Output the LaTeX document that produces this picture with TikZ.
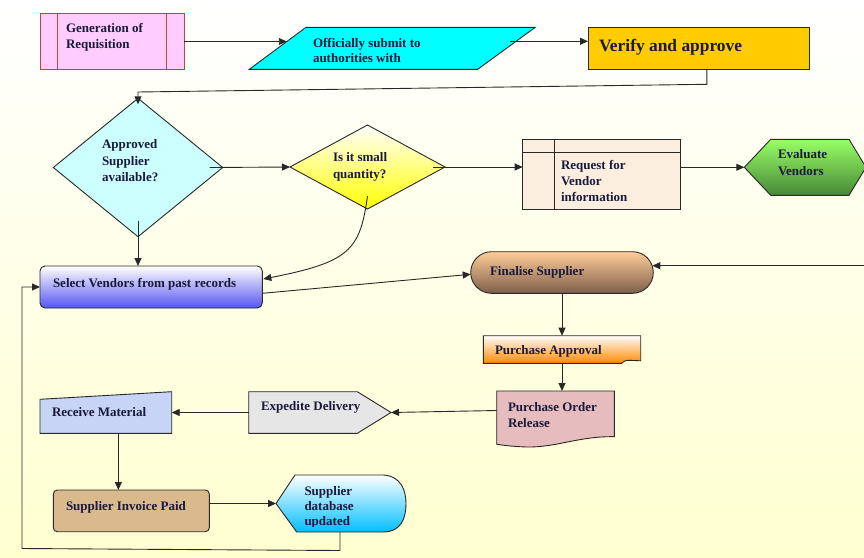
\documentclass[tikz,border=0pt]{standalone}
\usepackage{fontspec}
\setmainfont{Liberation Serif}
\usetikzlibrary{arrows.meta,calc}
\pgfdeclarelayer{bg}
\pgfsetlayers{bg,main}
\definecolor{bgmid}{RGB}{255,254,238}
\definecolor{bgbot}{RGB}{255,255,208}
\definecolor{ink}{RGB}{25,25,60}
\definecolor{edgec}{RGB}{40,40,40}
\definecolor{genfill}{RGB}{255,204,255}
\definecolor{genedge}{RGB}{175,75,55}
\definecolor{offfill}{RGB}{0,255,255}
\definecolor{verfill}{RGB}{255,204,0}
\definecolor{dafill}{RGB}{204,255,255}
\definecolor{dbot}{RGB}{255,255,0}
\definecolor{reqfill}{RGB}{252,238,222}
\definecolor{evatop}{RGB}{153,255,102}
\definecolor{evabot}{RGB}{72,135,55}
\definecolor{selbot}{RGB}{85,85,240}
\definecolor{fintop}{RGB}{255,204,153}
\definecolor{finbot}{RGB}{125,95,75}
\definecolor{pabot}{RGB}{255,136,0}
\definecolor{pofill}{RGB}{230,188,190}
\definecolor{expfill}{RGB}{230,230,230}
\definecolor{recfill}{RGB}{200,212,245}
\definecolor{invfill}{RGB}{218,186,140}
\definecolor{dbbot}{RGB}{0,190,255}
\begin{document}
\begin{tikzpicture}[x=1pt,y=-1pt,
  frame/.style={inner sep=0pt,outer sep=0pt},
  lbl/.style={inner sep=0pt,outer sep=0pt,anchor=base west,align=left,text=ink,font=\fontsize{13}{16.5}\selectfont\bfseries},
  conn/.style={draw=edgec,line width=0.9pt,-{Triangle[length=8pt,width=7pt]}},
  shapeline/.style={draw=edgec,line width=0.9pt}]
\useasboundingbox (0,0) rectangle (864,557);
% ---------- shape frames ----------
\node[frame,minimum width=144pt,minimum height=56.4pt] (gen) at (112,41.5) {};
\node[frame,minimum width=286pt,minimum height=42pt] (off) at (392.3,48.3) {};
\node[frame,minimum width=221.7pt,minimum height=42pt] (ver) at (698.85,48.3) {};
\node[frame,minimum width=169.4pt,minimum height=138.4pt] (da) at (138,167.5) {};
\node[frame,minimum width=155pt,minimum height=84pt] (db) at (367.5,167) {};
\node[frame,minimum width=157.3pt,minimum height=70pt] (req) at (601.35,174.3) {};
\node[frame,minimum width=121.7pt,minimum height=56pt] (eva) at (805.15,167.3) {};
\node[frame,minimum width=222.3pt,minimum height=42pt] (sel) at (151.15,287) {};
\node[frame,minimum width=182.6pt,minimum height=41.6pt] (fin) at (562,272.5) {};
\node[frame,minimum width=157.4pt,minimum height=27.6pt] (pa) at (562,349.5) {};
\node[frame,minimum width=117.6pt,minimum height=55pt] (po) at (555.5,418.5) {};
\node[frame,minimum width=142.3pt,minimum height=41.6pt] (exp) at (319.85,412.5) {};
\node[frame,minimum width=131.7pt,minimum height=41.6pt] (rec) at (105.85,412.5) {};
\node[frame,minimum width=156pt,minimum height=41.7pt] (inv) at (131.3,510.85) {};
\node[frame,minimum width=130pt,minimum height=57pt] (sdb) at (341,503.5) {};
\coordinate (rin) at (864,265.7);
% ---------- labels (anchor = baseline of last line) ----------
\node[lbl] (gen-t) at (66,48.8) {Generation of\\Requisition};
\node[lbl,font=\fontsize{13}{15.5}\selectfont\bfseries] (off-t) at (313,62.5) {Officially submit to\\authorities with};
\node[lbl,font=\fontsize{17.4}{20}\selectfont\bfseries] (ver-t) at (599,51) {Verify and approve};
\node[lbl] (da-t) at (102,181.7) {Approved\\Supplier\\available?};
\node[lbl] (db-t) at (333,178.3) {Is it small\\quantity?};
\node[lbl,font=\fontsize{13}{16.2}\selectfont\bfseries] (req-t) at (561,201.7) {Request for\\Vendor\\information};
\node[lbl,font=\fontsize{13}{17}\selectfont\bfseries] (eva-t) at (778,175) {Evaluate\\Vendors};
\node[lbl] (sel-t) at (53,287) {Select Vendors from past records};
\node[lbl] (fin-t) at (490,275) {Finalise Supplier};
\node[lbl] (pa-t) at (495,354.5) {Purchase Approval};
\node[lbl,font=\fontsize{13}{16.3}\selectfont\bfseries] (po-t) at (508,427.3) {Purchase Order\\Release};
\node[lbl] (exp-t) at (261,410.7) {Expedite Delivery};
\node[lbl] (rec-t) at (52,416.7) {Receive Material};
\node[lbl] (inv-t) at (66,510) {Supplier Invoice Paid};
\begin{scope}
\clip (sdb.north west) rectangle ($(sdb.south east)+(0,-6)$);
\node[lbl,font=\fontsize{13}{15}\selectfont\bfseries] (sdb-t) at (304.5,525.2) {Supplier\\database\\updated};
\end{scope}
% ---------- shapes (behind) ----------
\begin{pgfonlayer}{bg}
\shade[top color=white,middle color=bgmid,bottom color=bgbot] (0,0) rectangle (864,557);
\path[draw=genedge,fill=genfill,line width=0.9pt] (gen.north west) rectangle (gen.south east);
\draw[genedge,line width=0.9pt] ($(gen.north west)+(17.7,0)$) -- ($(gen.south west)+(17.7,0)$)
  ($(gen.north east)+(-17.3,0)$) -- ($(gen.south east)+(-17.3,0)$);
\path[shapeline,fill=offfill] ($(off.north west)+(56.7,0)$) -- (off.north east) -- ($(off.south east)+(-57.6,0)$) -- (off.south west) -- cycle;
\path[shapeline,fill=verfill] (ver.north west) rectangle (ver.south east);
\path[shapeline,fill=dafill] (da.north) -- (da.east) -- (da.south) -- (da.west) -- cycle;
\path[shapeline,top color=white,bottom color=dbot] (db.north) -- (db.east) -- (db.south) -- (db.west) -- cycle;
\path[shapeline,fill=reqfill] (req.north west) rectangle (req.south east);
\draw[edgec,line width=0.9pt] ($(req.north west)+(0,13.4)$) -- ($(req.north east)+(0,13.4)$)
  ($(req.north west)+(31.3,0)$) -- ($(req.south west)+(31.3,0)$);
\path[shapeline,top color=evatop,bottom color=evabot] (eva.west) -- ($(eva.north west)+(26.4,0)$) -- ($(eva.north east)+(-17,0)$) -- (eva.east) -- ($(eva.south east)+(-17,0)$) -- ($(eva.south west)+(26.4,0)$) -- cycle;
\path[shapeline,rounded corners=5pt,top color=white,bottom color=selbot] (sel.north west) rectangle (sel.south east);
\path[shapeline,rounded corners=20.8pt,top color=fintop,bottom color=finbot] (fin.north west) rectangle (fin.south east);
\path[shapeline,top color=white,bottom color=pabot] (pa.south west) -- ($(pa.south east)+(-19,0)$) .. controls ($(pa.south east)+(-16,-2.5)$) .. ($(pa.south east)+(-12,-3)$) -- ($(pa.south east)+(0,-2.5)$) -- (pa.north east) -- (pa.north west) -- cycle;
\path[shapeline,fill=pofill] (po.north west) -- (po.north east) -- ($(po.south east)+(0,-9.3)$) .. controls ($(po.south east)+(-35,-10)$) and ($(po.south west)+(60,1.5)$) .. ($(po.south west)+(30,1)$) .. controls ($(po.south west)+(15,0.5)$) and ($(po.south west)+(5,-1)$) .. ($(po.south west)+(0,-1.7)$) -- cycle;
\path[shapeline,fill=expfill] (exp.north west) -- ($(exp.north east)+(-33.7,0)$) -- (exp.east) -- ($(exp.south east)+(-33.7,0)$) -- (exp.south west) -- cycle;
\path[shapeline,fill=recfill] ($(rec.north west)+(0,7.6)$) -- (rec.north east) -- (rec.south east) -- (rec.south west) -- cycle;
\path[shapeline,rounded corners=4pt,fill=invfill] (inv.north west) rectangle (inv.south east);
\path[shapeline,top color=white,bottom color=dbbot] (sdb.west) -- ($(sdb.north west)+(19,0)$) -- ($(sdb.north east)+(-22.7,0)$) .. controls ($(sdb.north east)+(-5,1)$) and ($(sdb.east)+(0,-13)$) .. (sdb.east) .. controls ($(sdb.east)+(0,15)$) and ($(sdb.south east)+(-5,0)$) .. ($(sdb.south east)+(-23,0)$) -- ($(sdb.south west)+(20.7,0)$) -- cycle;
\end{pgfonlayer}
% ---------- connectors ----------
\draw[conn] (gen.east) -- ($(off.west)+(37.5,-6.8)$);
\draw[conn] ($(off.east)+(-25,-7)$) coordinate (o1) -- (o1 -| ver.west);
\draw[conn] ($(ver.south)+(8,0)$) -- ++(0,15) -- ($(da.north)+(0,-6.3)$) -- ($(da.north)+(0,6)$);
\draw[conn] ($(da.east)+(-13,0)$) -- (db.west);
\draw[conn] ($(db.east)+(-12,0)$) -- (db.east -| req.west);
\draw[conn] (req.east |- eva.west) -- (eva.west);
\draw[conn] ($(db.south)+(0,-13)$) .. controls +(-7.5,54) and +(86.7,-17) .. ($(sel.east)+(1,-8)$);
\draw[conn] ($(da.south)+(0,-16)$) -- (da.south |- sel.north);
\draw[conn] ($(sel.east)+(0,6.3)$) -- ($(fin.west)+(0,1.8)$);
\draw[conn] (rin) -- ($(rin -| fin.east)+(-1,0)$);
\draw[conn] (fin.south) -- (pa.north);
\draw[conn] (pa.south) -- (pa.south |- po.north);
\draw[conn] ($(po.west)+(0,-8)$) -- (exp.east);
\draw[conn] (exp.west) -- (rec.east);
\draw[conn] ($(rec.south)+(12.5,0)$) coordinate (r1) -- (r1 |- inv.north);
\draw[conn] (inv.east |- sdb.west) -- (sdb.west);
\draw[conn] ($(sdb.south)+(-1,0)$) -- ++(0,18.5) -- ++(-318,-2) |- (sel.west);
\end{tikzpicture}
\end{document}
